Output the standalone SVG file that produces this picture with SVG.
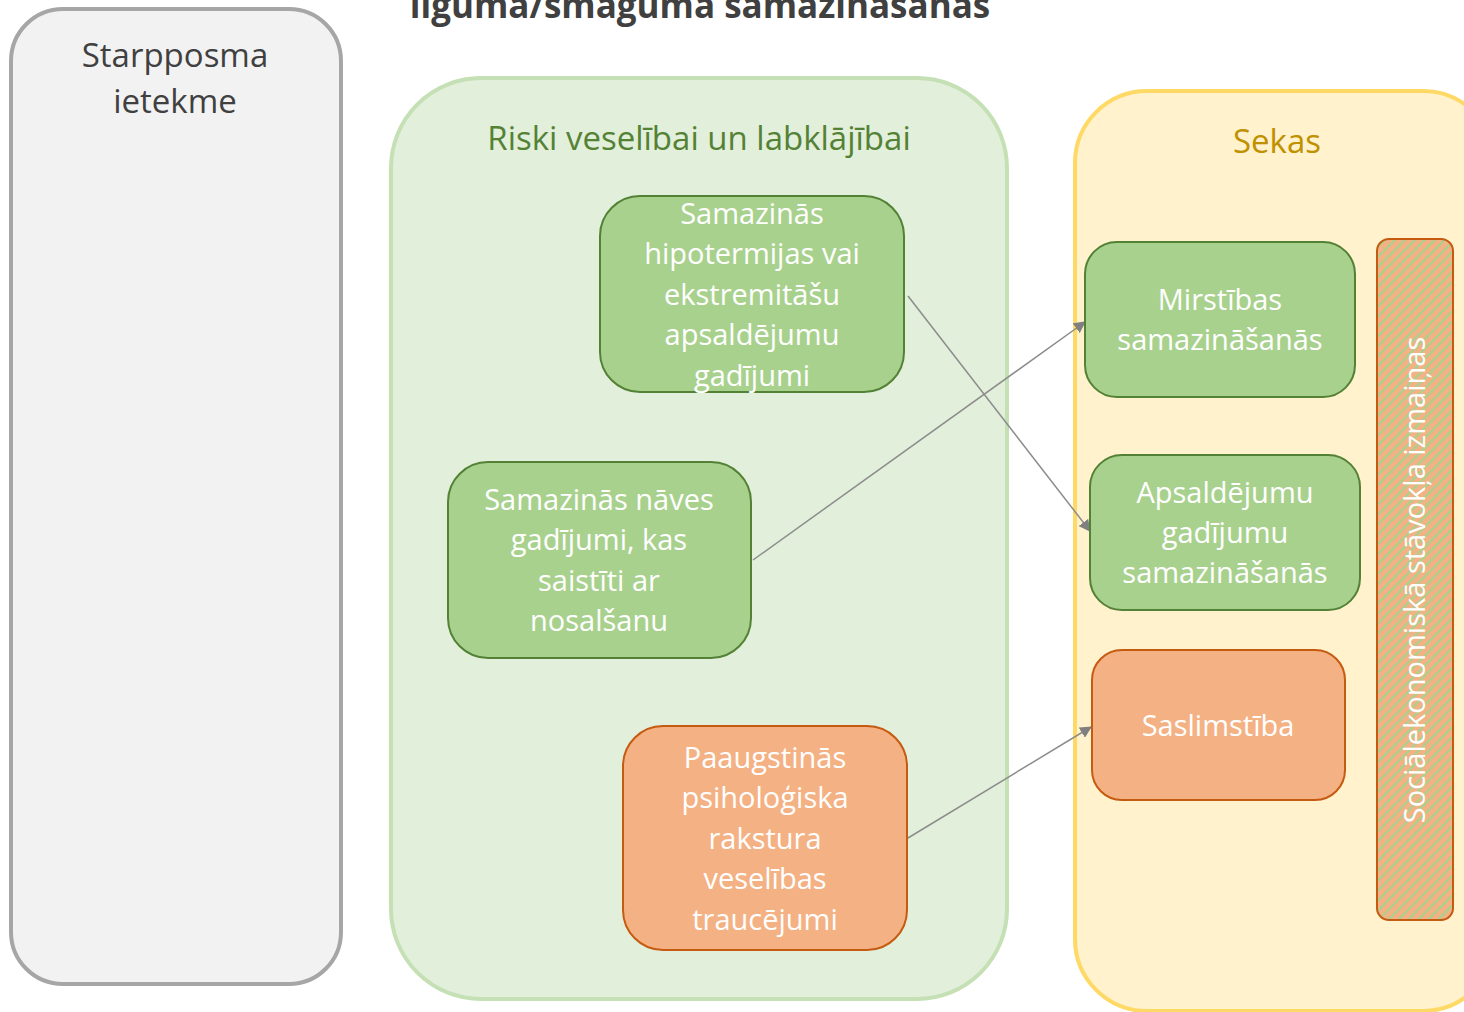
<svg xmlns="http://www.w3.org/2000/svg" width="1464" height="1012" viewBox="0 0 1464 1012">
  <style>
    text { font-family: "Open Sans", "Noto Sans", "DejaVu Sans", sans-serif; text-anchor: middle; }
    .head { font-size: 33px; }
    .lbl { font-size: 29px; fill: #ffffff; }
    .green { fill: #a9d18e; stroke: #538135; stroke-width: 2; }
    .orange { fill: #f4b183; stroke: #c55a11; stroke-width: 2; }
    .conn { stroke: #8c8c8c; stroke-width: 1.5; fill: none; marker-end: url(#arrow); }
  </style>
  <defs>
    <marker id="arrow" viewBox="0 0 10 10" refX="9" refY="5" markerWidth="12" markerHeight="12" markerUnits="userSpaceOnUse" orient="auto">
      <path d="M0,0 L10,5 L0,10 z" fill="#808080"/>
    </marker>
    <pattern id="stripes" width="7" height="7" patternUnits="userSpaceOnUse" patternTransform="rotate(45)">
      <rect width="7" height="7" fill="#f4b183"/>
      <rect width="2.2" height="7" fill="#a9d18e"/>
    </pattern>
  </defs>

  <rect width="1464" height="1012" fill="#ffffff"/>

  <!-- heading, partly above the top edge -->
  <text x="700" y="18" font-size="35" font-weight="bold" fill="#404040">līguma/smaguma samazināšanās</text>

  <!-- containers -->
  <g id="starpposma">
    <rect x="11" y="9" width="330" height="975" rx="52" fill="#f2f2f2" stroke="#a6a6a6" stroke-width="4"/>
    <text class="head" x="175" y="67" fill="#404040">Starpposma</text>
    <text class="head" x="175" y="113" fill="#404040">ietekme</text>
  </g>

  <g id="riski">
    <rect x="391" y="78" width="616" height="921" rx="90" fill="#e2efda" stroke="#c5e0b4" stroke-width="4"/>
    <text class="head" x="699" y="150" fill="#548235">Riski veselībai un labklājībai</text>
  </g>

  <g id="sekas">
    <rect x="1075" y="91" width="420" height="920" rx="72" fill="#fff2cc" stroke="#ffd966" stroke-width="4"/>
    <text class="head" x="1277" y="153" fill="#bf9000">Sekas</text>
  </g>

  <!-- connectors -->
  <g id="connectors">
    <line class="conn" x1="908" y1="296" x2="1090" y2="531"/>
    <line class="conn" x1="753" y1="560" x2="1085" y2="322"/>
    <line class="conn" x1="908" y1="838" x2="1091" y2="727"/>
  </g>

  <!-- risk nodes -->
  <g id="hipotermija">
    <rect class="green" x="600" y="196" width="304" height="196" rx="40"/>
    <text class="lbl" x="752" y="224">Samazinās</text>
    <text class="lbl" x="752" y="264">hipotermijas vai</text>
    <text class="lbl" x="752" y="305">ekstremitāšu</text>
    <text class="lbl" x="752" y="345">apsaldējumu</text>
    <text class="lbl" x="752" y="386">gadījumi</text>
  </g>

  <g id="naves-gadijumi">
    <rect class="green" x="448" y="462" width="303" height="196" rx="40"/>
    <text class="lbl" x="599" y="510">Samazinās nāves</text>
    <text class="lbl" x="599" y="550">gadījumi, kas</text>
    <text class="lbl" x="599" y="591">saistīti ar</text>
    <text class="lbl" x="599" y="631">nosalšanu</text>
  </g>

  <g id="psihologiska">
    <rect class="orange" x="623" y="726" width="284" height="224" rx="40"/>
    <text class="lbl" x="765" y="768">Paaugstinās</text>
    <text class="lbl" x="765" y="808">psiholoģiska</text>
    <text class="lbl" x="765" y="849">rakstura</text>
    <text class="lbl" x="765" y="889">veselības</text>
    <text class="lbl" x="765" y="930">traucējumi</text>
  </g>

  <!-- outcome nodes -->
  <g id="mirstiba">
    <rect class="green" x="1085" y="242" width="270" height="155" rx="32"/>
    <text class="lbl" x="1220" y="310">Mirstības</text>
    <text class="lbl" x="1220" y="350">samazināšanās</text>
  </g>

  <g id="apsaldejumi">
    <rect class="green" x="1090" y="455" width="270" height="155" rx="32"/>
    <text class="lbl" x="1225" y="503">Apsaldējumu</text>
    <text class="lbl" x="1225" y="543">gadījumu</text>
    <text class="lbl" x="1225" y="583">samazināšanās</text>
  </g>

  <g id="saslimstiba">
    <rect class="orange" x="1092" y="650" width="253" height="150" rx="30"/>
    <text class="lbl" x="1218" y="736">Saslimstība</text>
  </g>

  <g id="socialekonomiska">
    <rect x="1377" y="239" width="76" height="681" rx="12" fill="url(#stripes)" stroke="#c55a11" stroke-width="2"/>
    <text class="lbl" x="0" y="0" font-size="30" transform="translate(1425 580) rotate(-90)">Sociālekonomiskā stāvokļa izmaiņas</text>
  </g>
</svg>
